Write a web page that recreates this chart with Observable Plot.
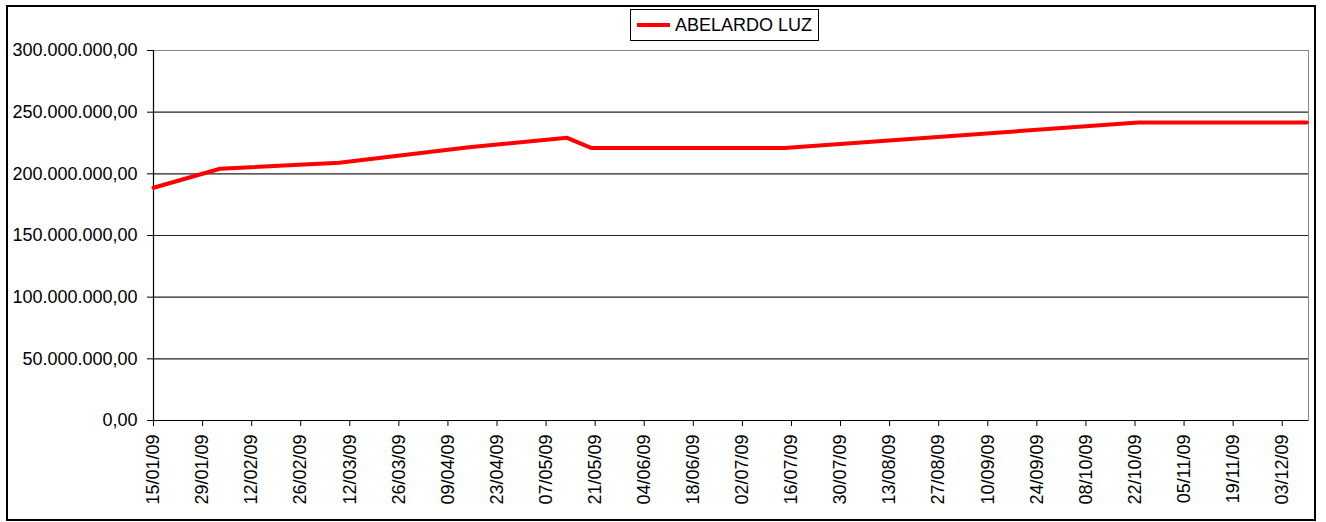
<!DOCTYPE html>
<html><head><meta charset="utf-8">
<script src="https://cdn.jsdelivr.net/npm/d3@7"></script>
<script src="https://cdn.jsdelivr.net/npm/@observablehq/plot@0.6"></script>
<style>
body{margin:0;background:#fff;font-family:"Liberation Sans",Arial,sans-serif;}
#wrap{position:relative;width:1326px;height:522px;overflow:hidden;background:#fff;}
#frame{position:absolute;left:6px;top:5px;width:1310px;height:516px;border:2px solid #000;box-sizing:border-box;pointer-events:none;}
#legend{position:absolute;left:630px;top:9px;width:189px;height:32px;border:1px solid #000;box-sizing:border-box;display:flex;align-items:center;font-size:18px;color:#000;background:#fff;white-space:nowrap;}
#legend .sw{display:inline-block;width:33px;height:4px;background:#ff0000;margin-left:6px;margin-right:5px;}
#chart{position:absolute;left:0;top:0;}
</style></head>
<body><div id="wrap"><div id="chart"></div><div id="frame"></div><div id="legend"><span class="sw"></span><span id="legtext"></span></div></div>
<script>
const seriesName = "ABELARDO LUZ";
const dates = ["2009-01-15","2009-02-03","2009-03-09","2009-04-15","2009-05-13","2009-05-20","2009-07-14","2009-10-23","2009-12-10"];
const values = [188.7e6, 204.1e6, 209.0e6, 221.5e6, 229.2e6, 220.9e6, 220.9e6, 241.7e6, 241.7e6];
const xTicks = ["2009-01-15","2009-01-29","2009-02-12","2009-02-26","2009-03-12","2009-03-26","2009-04-09","2009-04-23","2009-05-07","2009-05-21","2009-06-04","2009-06-18","2009-07-02","2009-07-16","2009-07-30","2009-08-13","2009-08-27","2009-09-10","2009-09-24","2009-10-08","2009-10-22","2009-11-05","2009-11-19","2009-12-03"];
const yTicks = [0, 50e6, 100e6, 150e6, 200e6, 250e6, 300e6];
const xStart = "2009-01-15";
const xEnd = "2009-12-10T12:00:00Z";

document.getElementById("legtext").textContent = seriesName;
const parse = d3.utcParse("%Y-%m-%d");
const data = dates.map((d, i) => ({date: parse(d), value: values[i]}));
const loc = d3.formatLocale({decimal: ",", thousands: ".", grouping: [3], currency: ["", ""]});
const fmtY = loc.format(",.2f");
const fmtX = d3.utcFormat("%d/%m/%y");
const x0 = parse(xStart);
const chart = Plot.plot({
  width: 1326, height: 522,
  marginLeft: 153, marginRight: 18, marginTop: 50, marginBottom: 102,
  style: {fontFamily: '"Liberation Sans", Arial, sans-serif', fontSize: "18px", color: "#000", background: "transparent", overflow: "visible"},
  x: {type: "utc", domain: [x0, new Date(xEnd)]},
  y: {domain: [0, 300e6]},
  marks: [
    Plot.gridY(yTicks.filter(v => v > 0 && v < 300e6), {stroke: "#222", strokeOpacity: 1, strokeWidth: 1.2}),
    Plot.frame({stroke: "#888"}),
    Plot.axisY(yTicks, {tickFormat: fmtY, tickSize: 6, tickPadding: 10, label: null, stroke: "#000", fill: "#000"}),
    Plot.axisX(xTicks.map(parse), {tickFormat: fmtX, tickRotate: -90, tickSize: 6, tickPadding: 8, label: null, stroke: "#000", fill: "#000"}),
    Plot.ruleX([x0], {stroke: "#000", strokeWidth: 1.2}),
    Plot.ruleY([0], {stroke: "#000", strokeWidth: 1.2}),
    Plot.line(data, {x: "date", y: "value", stroke: "#ff0000", strokeWidth: 4})
  ]
});
document.getElementById("chart").appendChild(chart);
</script>
</body></html>
